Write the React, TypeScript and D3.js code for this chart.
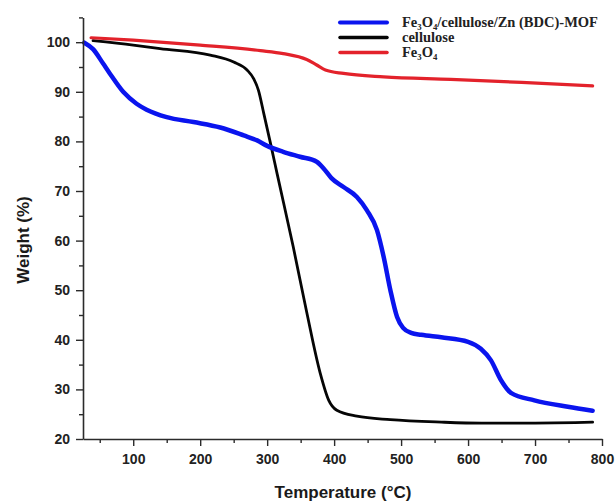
import React, { useEffect, useRef } from 'react';
import * as d3 from 'd3';

// TGA curves (temperature in °C, weight in %)
const mofTemp = [27, 40, 55, 65, 85, 105, 120, 150, 190, 230, 265, 285, 300, 324, 349, 374, 384, 396, 414, 434, 449, 464, 474, 484, 494, 503, 515, 530, 560, 600, 619, 634, 649, 664, 699, 749, 786];
const mofWeight = [99.9, 98.6, 95.7, 93.7, 90.0, 87.6, 86.4, 84.9, 83.9, 82.8, 81.2, 80.2, 79.1, 77.9, 76.9, 75.9, 74.6, 72.6, 70.8, 68.8, 66.1, 62.1, 56.7, 50.0, 44.6, 42.4, 41.4, 41.0, 40.5, 39.6, 38.2, 35.9, 31.9, 29.3, 27.8, 26.5, 25.7];

const celTemp = [40, 100, 140, 215, 250, 270, 280, 287, 295, 305, 315, 339, 359, 379, 392, 404, 434, 484, 560, 620, 700, 760, 786];
const celWeight = [100.3, 99.4, 98.7, 97.4, 96.0, 94.4, 92.6, 90.3, 85.6, 79.6, 73.4, 58.7, 45.6, 33.4, 27.8, 25.8, 24.6, 23.9, 23.4, 23.2, 23.2, 23.3, 23.4];

const feTemp = [37, 100, 200, 290, 324, 359, 374, 387, 414, 474, 574, 680, 786];
const feWeight = [100.9, 100.4, 99.4, 98.3, 97.7, 96.5, 95.4, 94.4, 93.7, 93.0, 92.5, 91.9, 91.2];

const xMajor = [100, 200, 300, 400, 500, 600, 700, 800];
const xMinor = [50, 150, 250, 350, 450, 550, 650, 750];
const yMajor = [20, 30, 40, 50, 60, 70, 80, 90, 100];
const yMinor = [25, 35, 45, 55, 65, 75, 85, 95, 105];

const legendNames = ['Fe₃O₄/cellulose/Zn (BDC)-MOF', 'cellulose', 'Fe₃O₄'];
const legendColors = ['#0a14ee', '#050505', '#e3222b'];

const W = 615;
const H = 502;

function App() {
  const ref = useRef<SVGSVGElement>(null);

  useEffect(() => {
    const svg = d3.select(ref.current);
    svg.selectAll('*').remove();

    const x = d3.scaleLinear().domain([25, 800]).range([83, 602]);
    const y = d3.scaleLinear().domain([20, 105]).range([439, 17.4]);

    const series = [
      { t: celTemp, w: celWeight, color: legendColors[1], width: 2.8 },
      { t: feTemp, w: feWeight, color: legendColors[2], width: 3.2 },
      { t: mofTemp, w: mofWeight, color: legendColors[0], width: 4.5 },
    ];

    const line = d3
      .line<[number, number]>()
      .x((d) => x(d[0]))
      .y((d) => y(d[1]))
      .curve(d3.curveMonotoneX);

    series.forEach((s) => {
      const pts = s.t.map((t, i) => [t, s.w[i]] as [number, number]);
      svg
        .append('path')
        .datum(pts)
        .attr('d', line)
        .attr('fill', 'none')
        .attr('stroke', s.color)
        .attr('stroke-width', s.width)
        .attr('stroke-linecap', 'round')
        .attr('stroke-linejoin', 'round');
    });

    const axisColor = '#2b2b2b';
    const font = 'Liberation Sans, Arial, sans-serif';

    const style = (g: any) => {
      g.selectAll('path').attr('stroke', axisColor).attr('stroke-width', 1.6);
      g.selectAll('line').attr('stroke', axisColor).attr('stroke-width', 1.4);
      g.selectAll('text')
        .attr('fill', '#222')
        .style('font-family', font)
        .style('font-weight', 'bold')
        .style('font-size', '14px');
    };

    // bottom axis
    const gxMinor = svg.append('g').attr('transform', 'translate(0,439)');
    gxMinor.call(d3.axisBottom(x).tickValues(xMinor).tickSize(4).tickFormat(() => ''));
    gxMinor.select('.domain').remove();
    style(gxMinor);
    const gx = svg.append('g').attr('transform', 'translate(0,439)');
    gx.call(
      d3.axisBottom(x).tickValues(xMajor).tickSize(7).tickPadding(8).tickSizeOuter(0).tickFormat(d3.format('d'))
    );
    style(gx);

    // left axis
    const gyMinor = svg.append('g').attr('transform', 'translate(83,0)');
    gyMinor.call(d3.axisLeft(y).tickValues(yMinor).tickSize(4).tickFormat(() => ''));
    gyMinor.select('.domain').remove();
    style(gyMinor);
    const gy = svg.append('g').attr('transform', 'translate(83,0)');
    gy.call(d3.axisLeft(y).tickValues(yMajor).tickSize(7).tickPadding(6).tickSizeOuter(0));
    style(gy);

    svg
      .append('text')
      .attr('x', 343)
      .attr('y', 498)
      .attr('text-anchor', 'middle')
      .attr('fill', '#1a1a1a')
      .style('font-family', font)
      .style('font-weight', 'bold')
      .style('font-size', '17px')
      .text('Temperature (°C)');

    svg
      .append('text')
      .attr('transform', 'translate(29,240) rotate(-90)')
      .attr('text-anchor', 'middle')
      .attr('fill', '#1a1a1a')
      .style('font-family', font)
      .style('font-weight', 'bold')
      .style('font-size', '17px')
      .text('Weight (%)');

    // legend
    const legendY = [22.5, 37.5, 52.5];
    const legendWidth = [4, 3.5, 3.5];
    legendNames.forEach((name, i) => {
      const ly = legendY[i];
      svg
        .append('line')
        .attr('x1', 340)
        .attr('x2', 387)
        .attr('y1', ly)
        .attr('y2', ly)
        .attr('stroke', legendColors[i])
        .attr('stroke-width', legendWidth[i])
        .attr('stroke-linecap', 'round');
      svg
        .append('text')
        .attr('x', 402)
        .attr('y', ly + 4)
        .attr('fill', '#222')
        .style('font-family', 'Liberation Serif, Times New Roman, serif')
        .style('font-weight', 'bold')
        .style('font-size', '14.5px')
        .text(name);
    });
  }, []);

  return (
    <svg
      ref={ref}
      width={W}
      height={H}
      style={{ position: 'absolute', left: 0, top: 0, background: '#fff' }}
    />
  );
}

export default App;
